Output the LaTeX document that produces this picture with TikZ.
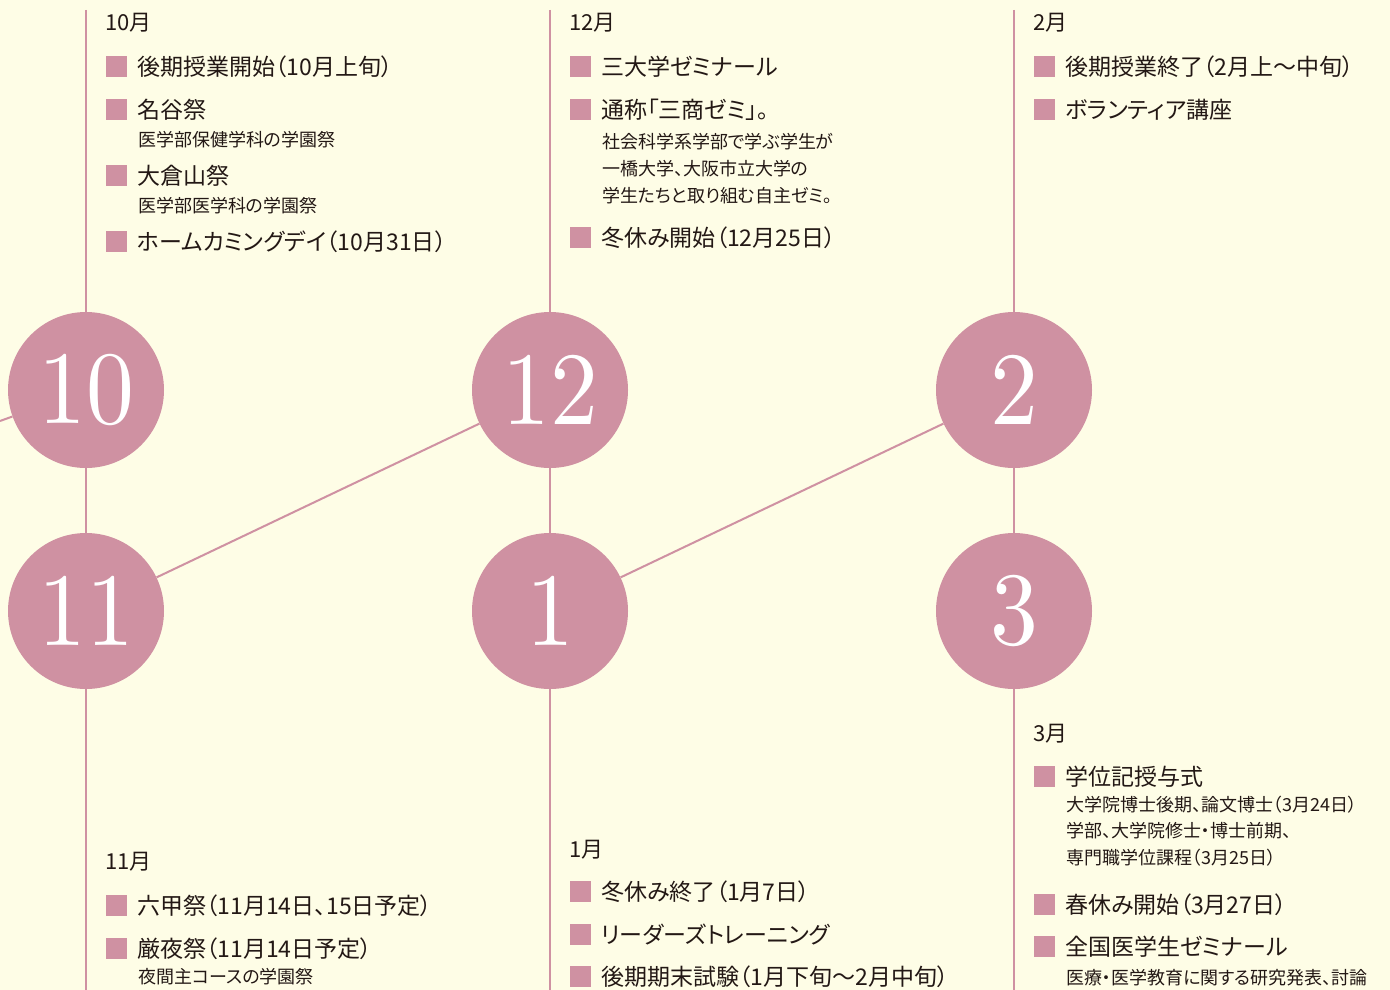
\documentclass[tikz,border=0pt]{standalone}
\usepackage{fontspec}
\usepackage{graphicx}
\newfontfamily\jp[RawFeature=+palt]{Noto Sans CJK JP}
\newfontfamily\numfont{lmroman10-regular}[Extension=.otf]
\definecolor{bg}{HTML}{FEFDE6}
\definecolor{pk}{HTML}{CF91A2}
\definecolor{ink}{HTML}{231815}
\tikzset{
  hd/.style={anchor=west,inner sep=0pt,text=ink,font=\jp\fontsize{22}{26}\selectfont},
  item/.style={anchor=west,inner sep=0pt,text=ink,font=\jp\fontsize{23}{28}\selectfont},
  sub/.style={anchor=west,inner sep=0pt,text=ink,font=\jp\fontsize{18}{22}\selectfont},
  sq/.style={fill=pk,minimum size=21pt,inner sep=0pt,draw=none},
  mon/.style={circle,fill=pk,minimum size=156pt,inner sep=0pt,text=white,
    font=\numfont\fontsize{104}{104}\selectfont},
  ln/.style={draw=pk,line width=2pt}
}
\newcommand{\mnum}[1]{\scalebox{0.92}[1]{#1}}
\begin{document}
\begin{tikzpicture}[x=1pt,y=-1pt]
\useasboundingbox (0,0) rectangle (1390,990);
\fill[bg] (0,0) rectangle (1390,990);
% circles
\node[mon] (c10) at (86,390) {\mnum{10}};
\node[mon] (c11) at (86,611) {\mnum{11}};
\node[mon] (c12) at (550,390) {\mnum{12}};
\node[mon] (c1) at (550,611) {\mnum{1}};
\node[mon] (c2) at (1014,390) {\mnum{2}};
\node[mon] (c3) at (1014,611) {\mnum{3}};
% free ends
\coordinate (t10) at (86,10);
\coordinate (t12) at (550,10);
\coordinate (t2) at (1014,10);
\coordinate (b11) at (86,990);
\coordinate (b1) at (550,990);
\coordinate (b3) at (1014,990);
\coordinate (l9) at (0,421);
% connectors
\draw[ln] (t10) -- (c10);
\draw[ln] (c10) -- (c11);
\draw[ln] (c11) -- (b11);
\draw[ln] (t12) -- (c12);
\draw[ln] (c12) -- (c1);
\draw[ln] (c1) -- (b1);
\draw[ln] (t2) -- (c2);
\draw[ln] (c2) -- (c3);
\draw[ln] (c3) -- (b3);
\draw[ln] (l9) -- (c10);
\draw[ln] (c11) -- (c12);
\draw[ln] (c1) -- (c2);
% October
\node[hd] (h10) at (105,23) {10月};
\node[sq] (s10a) at (116.5,66.5) {};
\node[item] (i10a) at (137,67) {後期授業開始（10月上旬）};
\node[sq] (s10b) at (116.5,109.5) {};
\node[item] (i10b) at (137,110) {名谷祭};
\node[sub] (u10b) at (138,140) {医学部保健学科の学園祭};
\node[sq] (s10c) at (116.5,175.5) {};
\node[item] (i10c) at (137,176) {大倉山祭};
\node[sub] (u10c) at (138,206) {医学部医学科の学園祭};
\node[sq] (s10d) at (116.5,241.5) {};
\node[item] (i10d) at (137,242) {ホームカミングデイ（10月31日）};
% December
\node[hd] (h12) at (569,23) {12月};
\node[sq] (s12a) at (580.5,66.5) {};
\node[item] (i12a) at (601,67) {三大学ゼミナール};
\node[sq] (s12b) at (580.5,109.5) {};
\node[item] (i12b) at (601,110) {通称「三商ゼミ」。};
\node[sub] (u12b1) at (602,142) {社会科学系学部で学ぶ学生が};
\node[sub] (u12b2) at (602,169) {一橋大学、大阪市立大学の};
\node[sub] (u12b3) at (602,196) {学生たちと取り組む自主ゼミ。};
\node[sq] (s12c) at (580.5,237.5) {};
\node[item] (i12c) at (601,238) {冬休み開始（12月25日）};
% February
\node[hd] (h2) at (1033,23) {2月};
\node[sq] (s2a) at (1044.5,66.5) {};
\node[item] (i2a) at (1065,67) {後期授業終了（2月上～中旬）};
\node[sq] (s2b) at (1044.5,109.5) {};
\node[item] (i2b) at (1065,110) {ボランティア講座};
% November
\node[hd] (h11) at (105,862) {11月};
\node[sq] (s11a) at (116.5,905.5) {};
\node[item] (i11a) at (137,906) {六甲祭（11月14日、15日予定）};
\node[sq] (s11b) at (116.5,948.5) {};
\node[item] (i11b) at (137,949) {厳夜祭（11月14日予定）};
\node[sub] (u11b) at (138,977) {夜間主コースの学園祭};
% January
\node[hd] (h1) at (569,850) {1月};
\node[sq] (s1a) at (580.5,891.5) {};
\node[item] (i1a) at (601,892) {冬休み終了（1月7日）};
\node[sq] (s1b) at (580.5,934.5) {};
\node[item] (i1b) at (601,935) {リーダーズトレーニング};
\node[sq] (s1c) at (580.5,976.5) {};
\node[item] (i1c) at (601,977) {後期期末試験（1月下旬～2月中旬）};
% March
\node[hd] (h3) at (1033,734) {3月};
\node[sq] (s3a) at (1044.5,776.5) {};
\node[item] (i3a) at (1065,777) {学位記授与式};
\node[sub] (u3a1) at (1066,805) {大学院博士後期、論文博士（3月24日）};
\node[sub] (u3a2) at (1066,831) {学部、大学院修士・博士前期、};
\node[sub] (u3a3) at (1066,858) {専門職学位課程（3月25日）};
\node[sq] (s3b) at (1044.5,904.5) {};
\node[item] (i3b) at (1065,905) {春休み開始（3月27日）};
\node[sq] (s3c) at (1044.5,946.5) {};
\node[item] (i3c) at (1065,947) {全国医学生ゼミナール};
\node[sub] (u3c) at (1066,978) {医療・医学教育に関する研究発表、討論};
\end{tikzpicture}
\end{document}
